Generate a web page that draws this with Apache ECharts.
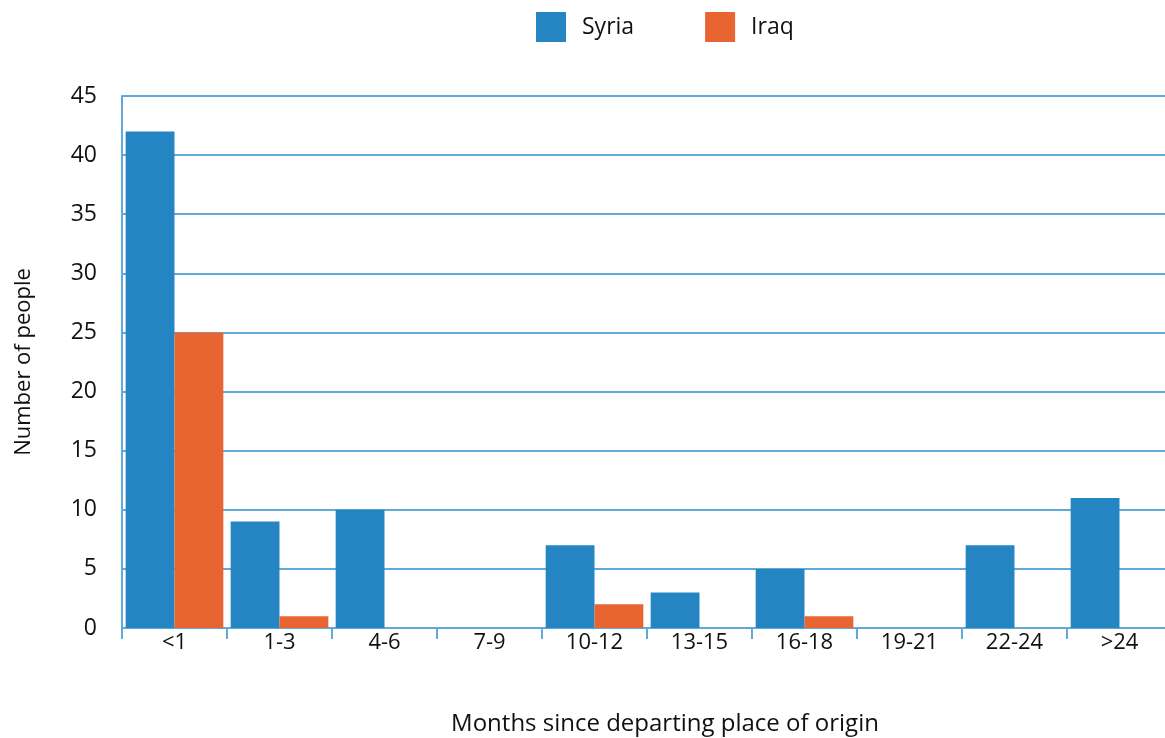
<!DOCTYPE html>
<html><head><meta charset="utf-8">
<script src="https://cdn.jsdelivr.net/npm/echarts@6/dist/echarts.min.js"></script>
<style>html,body{margin:0;padding:0;background:#fff}#c{width:1165px;height:738px}</style>
</head><body><div id="c"></div>
<script>
const categories = ['<1','1-3','4-6','7-9','10-12','13-15','16-18','19-21','22-24','>24'];
const syria = [42, 9, 10, 0, 7, 3, 5, 0, 7, 11];
const iraq = [25, 1, 0, 0, 2, 0, 1, 0, 0, 0];
const FONT = 'Open Sans';
const gridColor = '#62a8d8';
const chart = echarts.init(document.getElementById('c'));
chart.setOption({
  animation: false,
  textStyle: {fontFamily: FONT},
  legend: {
    top: 7, left: 531, itemWidth: 30, itemHeight: 30, itemGap: 71, icon: 'rect',
    textStyle: {fontSize: 23, color: '#111', fontFamily: FONT, padding: [0,0,0,11]},
    data: ['Syria','Iraq']
  },
  grid: {left: 122, right: -7, top: 96, bottom: 110, containLabel: false, outerBoundsMode: 'none'},
  xAxis: {
    type: 'category', data: categories,
    name: 'Months since departing place of origin', nameLocation: 'middle', nameGap: 84,
    nameTextStyle: {fontSize: 24, color: '#111', fontFamily: FONT, padding: [0,0,0,36]},
    axisLine: {lineStyle: {color: gridColor, width: 2}},
    axisTick: {show: true, length: 11, lineStyle: {color: gridColor, width: 2}},
    axisLabel: {fontSize: 22, color: '#111', margin: 4, fontFamily: FONT}
  },
  yAxis: {
    type: 'value', min: 0, max: 45, interval: 5,
    name: 'Number of people', nameLocation: 'middle', nameGap: 87, nameRotate: 90,
    nameTextStyle: {fontSize: 22, color: '#111', fontFamily: FONT},
    axisLine: {show: true, lineStyle: {color: gridColor, width: 2}},
    axisTick: {show: false},
    splitLine: {lineStyle: {color: gridColor, width: 2}},
    axisLabel: {fontSize: 23, color: '#111', margin: 25, fontFamily: FONT}
  },
  series: [
    {name: 'Syria', type: 'bar', data: syria, barGap: '0%', barCategoryGap: '7%', itemStyle: {color: '#2585c3'}},
    {name: 'Iraq', type: 'bar', data: iraq, itemStyle: {color: '#e86430'}}
  ]
});
</script></body></html>
